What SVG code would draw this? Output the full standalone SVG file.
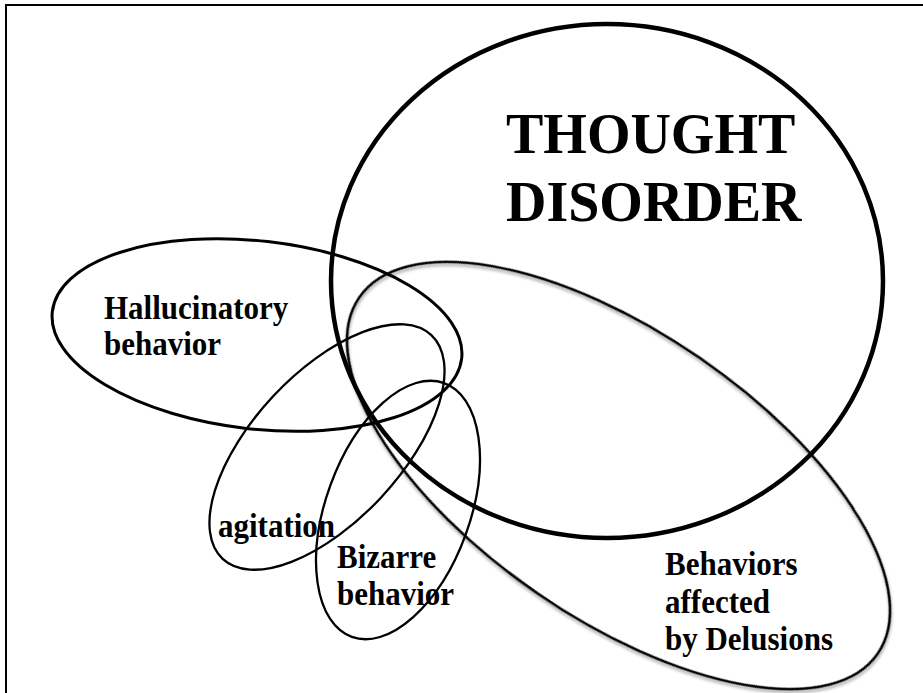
<svg xmlns="http://www.w3.org/2000/svg" width="923" height="693" viewBox="0 0 923 693">
<style>
.shape{fill:none;stroke:#000}
.lbl{font-family:"Liberation Serif","Times New Roman",serif;font-weight:bold;font-size:31px;fill:#000}
.big{font-size:56px}
</style>
<defs>
<filter id="shadow" x="-10%" y="-10%" width="120%" height="120%">
<feDropShadow dx="2" dy="2" stdDeviation="1.5" flood-color="#000" flood-opacity="0.35"/>
</filter>
</defs>
<rect width="923" height="693" fill="#fff"/>
<g id="frame" stroke="#000" stroke-width="2">
<line x1="5" y1="5" x2="923" y2="5"/>
<line x1="6" y1="4" x2="6" y2="693"/>
</g>
<g id="thought-disorder">
<ellipse class="shape" cx="607" cy="281" rx="276" ry="257" stroke-width="4.5"/>
<text class="lbl big" transform="translate(506 153) scale(1 1.03)">THOUGHT</text>
<text class="lbl big" transform="translate(506 221) scale(1 1.03)">DISORDER</text>
</g>
<g id="hallucinatory">
<ellipse class="shape" cx="257" cy="335" rx="206" ry="94" stroke-width="3" transform="rotate(6.5 257 335)"/>
<text class="lbl" transform="translate(104 319) scale(1 1.06)">Hallucinatory</text>
<text class="lbl" transform="translate(104 355) scale(1 1.06)">behavior</text>
</g>
<g id="agitation">
<ellipse class="shape" cx="327" cy="447" rx="153" ry="74" stroke-width="2.3" transform="rotate(-47 327 447)"/>
<text class="lbl" transform="translate(218 537) scale(1 1.06)">agitation</text>
</g>
<g id="bizarre">
<ellipse class="shape" cx="398" cy="510" rx="72" ry="135" stroke-width="2.3" transform="rotate(20 398 510)"/>
<text class="lbl" transform="translate(337 568) scale(1 1.06)">Bizarre</text>
<text class="lbl" transform="translate(337 605) scale(1 1.06)">behavior</text>
</g>
<g id="delusions">
<ellipse class="shape" cx="618.5" cy="475.5" rx="314.5" ry="143" stroke-width="2.5" transform="rotate(34.5 618.5 475.5)" filter="url(#shadow)"/>
<text class="lbl" transform="translate(665 575) scale(1 1.06)">Behaviors</text>
<text class="lbl" transform="translate(665 613) scale(1 1.06)">affected</text>
<text class="lbl" transform="translate(665 650) scale(1 1.06)">by Delusions</text>
</g>
<g id="connectors"/>
</svg>
